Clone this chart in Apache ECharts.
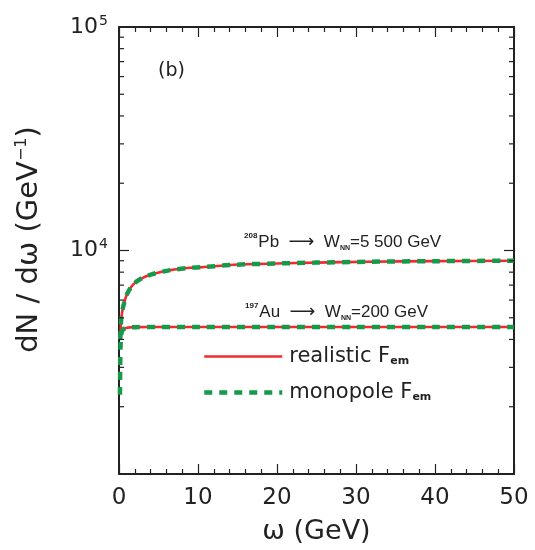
<!DOCTYPE html>
<html>
<head>
<meta charset="utf-8">
<script src="https://cdn.jsdelivr.net/npm/echarts@6/dist/echarts.min.js"></script>
<style>
  html, body { margin: 0; padding: 0; background: #fff; }
  #chart { width: 535px; height: 550px; }
</style>
</head>
<body>
<div id="chart"></div>
<script>
// Photon spectrum dN/dω versus ω for two collision systems
const omegaPb = [0.15, 0.2, 0.3, 0.55, 1, 1.8, 3, 4.4, 6.5, 9, 10.5, 14.5, 20, 25, 31.5, 40, 50];
const pbRealistic = [4000, 4360, 5020, 5640, 6360, 7050, 7550, 7870, 8170, 8370, 8420, 8630, 8750, 8830, 8905, 8960, 9000];
const pbMonopole  = [4000, 4360, 5020, 5640, 6360, 7050, 7550, 7870, 8170, 8370, 8420, 8630, 8750, 8830, 8905, 8960, 9000];

const omegaAuRealistic = [0.2, 0.3, 0.5, 1, 2, 5, 10, 20, 30, 40, 50];
const auRealistic = [4000, 4250, 4420, 4510, 4540, 4545, 4545, 4548, 4550, 4550, 4550];
const omegaAuMonopole = [0.12, 0.15, 0.2, 0.3, 0.5, 1, 2, 5, 10, 20, 30, 40, 50];
const auMonopole = [2260, 3000, 3800, 4250, 4420, 4510, 4540, 4545, 4545, 4548, 4550, 4550, 4550];

const xTicks = [0, 10, 20, 30, 40, 50];
const yLabelTicks = [10000, 100000];
const yTicks = [1000, 2000, 3000, 4000, 5000, 6000, 7000, 8000, 9000,
                10000, 20000, 30000, 40000, 50000, 60000, 70000, 80000, 90000, 100000];

const RED = '#ef2b2d';
const GREEN = '#16994a';
const SANS = 'DejaVu Sans';
const INK = '#222';
const X_MIN = 0, X_MAX = 50;

function pairs(xs, ys) { return xs.map((x, i) => [x, ys[i]]); }

const chart = echarts.init(document.getElementById('chart'), null, { renderer: 'canvas' });

function xAxisOf(pos, withLabels) {
  return {
    type: 'value', min: X_MIN, max: X_MAX, interval: 10, position: pos,
    axisLine: { show: true, onZero: false, lineStyle: { color: INK, width: 2 } },
    axisTick: { show: true, inside: true, length: 10, lineStyle: { color: INK, width: 1.2 } },
    minorTick: { show: true, splitNumber: 5, length: 5, lineStyle: { color: INK, width: 1.2 } },
    splitLine: { show: false }, minorSplitLine: { show: false },
    axisLabel: withLabels
      ? { show: true, fontFamily: SANS, fontSize: 23, color: INK, margin: 13, customValues: xTicks }
      : { show: false }
  };
}

function yAxisOf(pos) {
  return {
    type: 'log', logBase: 10, min: 1000, max: 100000, position: pos,
    axisLine: { show: true, onZero: false, lineStyle: { color: INK, width: 2 } },
    axisTick: { show: false },
    splitLine: { show: false },
    axisLabel: { show: false }
  };
}

const textRich = {
  t: { font: '17px "Liberation Sans"', fill: INK, lineHeight: 20 },
  ar: { font: '18px "DejaVu Sans"', fill: INK, lineHeight: 20 },
  sup: { font: 'bold 8px "Liberation Sans"', fill: INK, verticalAlign: 'top', padding: [0, 1, 10, 0] },
  sub: { font: 'bold 7px "Liberation Sans"', fill: INK, verticalAlign: 'bottom', padding: [8, 0, 0, 0] }
};

const yLeft = yAxisOf('left');
yLeft.axisLabel = {
  show: true, margin: 11, customValues: yLabelTicks,
  formatter: v => '{b|10}{s|' + Math.round(Math.log10(v)) + '}',
  rich: {
    b: { fontFamily: SANS, fontSize: 22, color: INK },
    s: { fontFamily: SANS, fontSize: 14, color: INK, verticalAlign: 'top', padding: [0, 0, 12, 1] }
  }
};
yLeft.name = '{t|dN / dω (GeV}{s|−1}{t|)}';
yLeft.nameLocation = 'middle';
yLeft.nameGap = 75;
yLeft.nameTextStyle = {
  padding: [0, 0, 0, 22],
  rich: {
    t: { fontFamily: SANS, fontSize: 29, color: INK },
    s: { fontFamily: SANS, fontSize: 16, color: INK, verticalAlign: 'top', padding: [0, 0, 14, 0] }
  }
};

const xBottom = xAxisOf('bottom', true);
xBottom.name = 'ω (GeV)';
xBottom.nameLocation = 'middle';
xBottom.nameGap = 44;
xBottom.nameTextStyle = { fontFamily: SANS, fontSize: 27, color: INK };

// inward log ticks on both vertical frame edges: decades long, the rest short
function renderYTicks(params, api) {
  const v = api.value(1);
  const pL = api.coord([X_MIN, v]);
  const pR = api.coord([X_MAX, v]);
  const len = Math.abs(Math.log10(v) - Math.round(Math.log10(v))) < 1e-9 ? 10 : 5;
  const style = { stroke: INK, lineWidth: 1.2 };
  return {
    type: 'group',
    children: [
      { type: 'line', shape: { x1: pL[0], y1: pL[1], x2: pL[0] + len, y2: pL[1] }, style },
      { type: 'line', shape: { x1: pR[0], y1: pR[1], x2: pR[0] - len, y2: pR[1] }, style }
    ]
  };
}

chart.setOption({
  animation: false,
  backgroundColor: '#fff',
  grid: { left: 119, right: 21, top: 27, bottom: 74, show: false },
  xAxis: [xBottom, xAxisOf('top', false)],
  yAxis: [yLeft, yAxisOf('right')],
  legend: {
    orient: 'vertical', left: 197, top: 341,
    itemWidth: 78, itemHeight: 16, itemGap: 15,
    data: [
      { name: 'realistic', lineStyle: { color: RED, width: 2.6, type: 'solid' } },
      { name: 'monopole', lineStyle: { color: GREEN, width: 4.5, type: [8, 7] } }
    ],
    itemStyle: { opacity: 0 },
    formatter: n => n + ' F{sub|em}',
    textStyle: {
      fontFamily: SANS, fontSize: 21, color: INK, padding: [0, 0, 0, 2],
      rich: {
        sub: { fontFamily: SANS, fontSize: 11, fontWeight: 'bold', color: INK,
          verticalAlign: 'bottom', padding: [8, 0, 0, 0] }
      }
    }
  },
  series: [
    { name: 'ticks', type: 'custom', silent: true, clip: false, z: 5,
      data: yTicks.map(v => [X_MIN, v]), encode: { x: 0, y: 1 },
      renderItem: renderYTicks },
    { name: 'realistic', type: 'line', data: pairs(omegaPb, pbRealistic), showSymbol: false, symbol: 'none',
      smooth: 0.3, lineStyle: { color: RED, width: 2.6 }, itemStyle: { color: RED }, z: 2 },
    { name: 'realistic', type: 'line', data: pairs(omegaAuRealistic, auRealistic), showSymbol: false, symbol: 'none',
      smooth: 0.3, lineStyle: { color: RED, width: 2.6 }, itemStyle: { color: RED }, z: 2 },
    { name: 'monopole', type: 'line', data: pairs(omegaPb, pbMonopole), showSymbol: false, symbol: 'none',
      smooth: 0.3, lineStyle: { color: GREEN, width: 4.5, type: [8, 7] }, itemStyle: { color: GREEN }, z: 3 },
    { name: 'monopole', type: 'line', data: pairs(omegaAuMonopole, auMonopole), showSymbol: false, symbol: 'none',
      smooth: 0.3, lineStyle: { color: GREEN, width: 4.5, type: [8, 7] }, itemStyle: { color: GREEN }, z: 3 }
  ],
  graphic: [
    { type: 'text', left: 158, top: 62,
      style: { text: '(b)', font: '19px "DejaVu Sans"', fill: INK } },
    { type: 'text', left: 244, top: 232,
      style: { text: '{sup|208}{t|Pb  }{ar|⟶}{t|  W}{sub|NN}{t|=5 500 GeV}', rich: textRich } },
    { type: 'text', left: 245, top: 302,
      style: { text: '{sup|197}{t|Au  }{ar|⟶}{t|  W}{sub|NN}{t|=200 GeV}', rich: textRich } }
  ]
});
</script>
</body>
</html>
